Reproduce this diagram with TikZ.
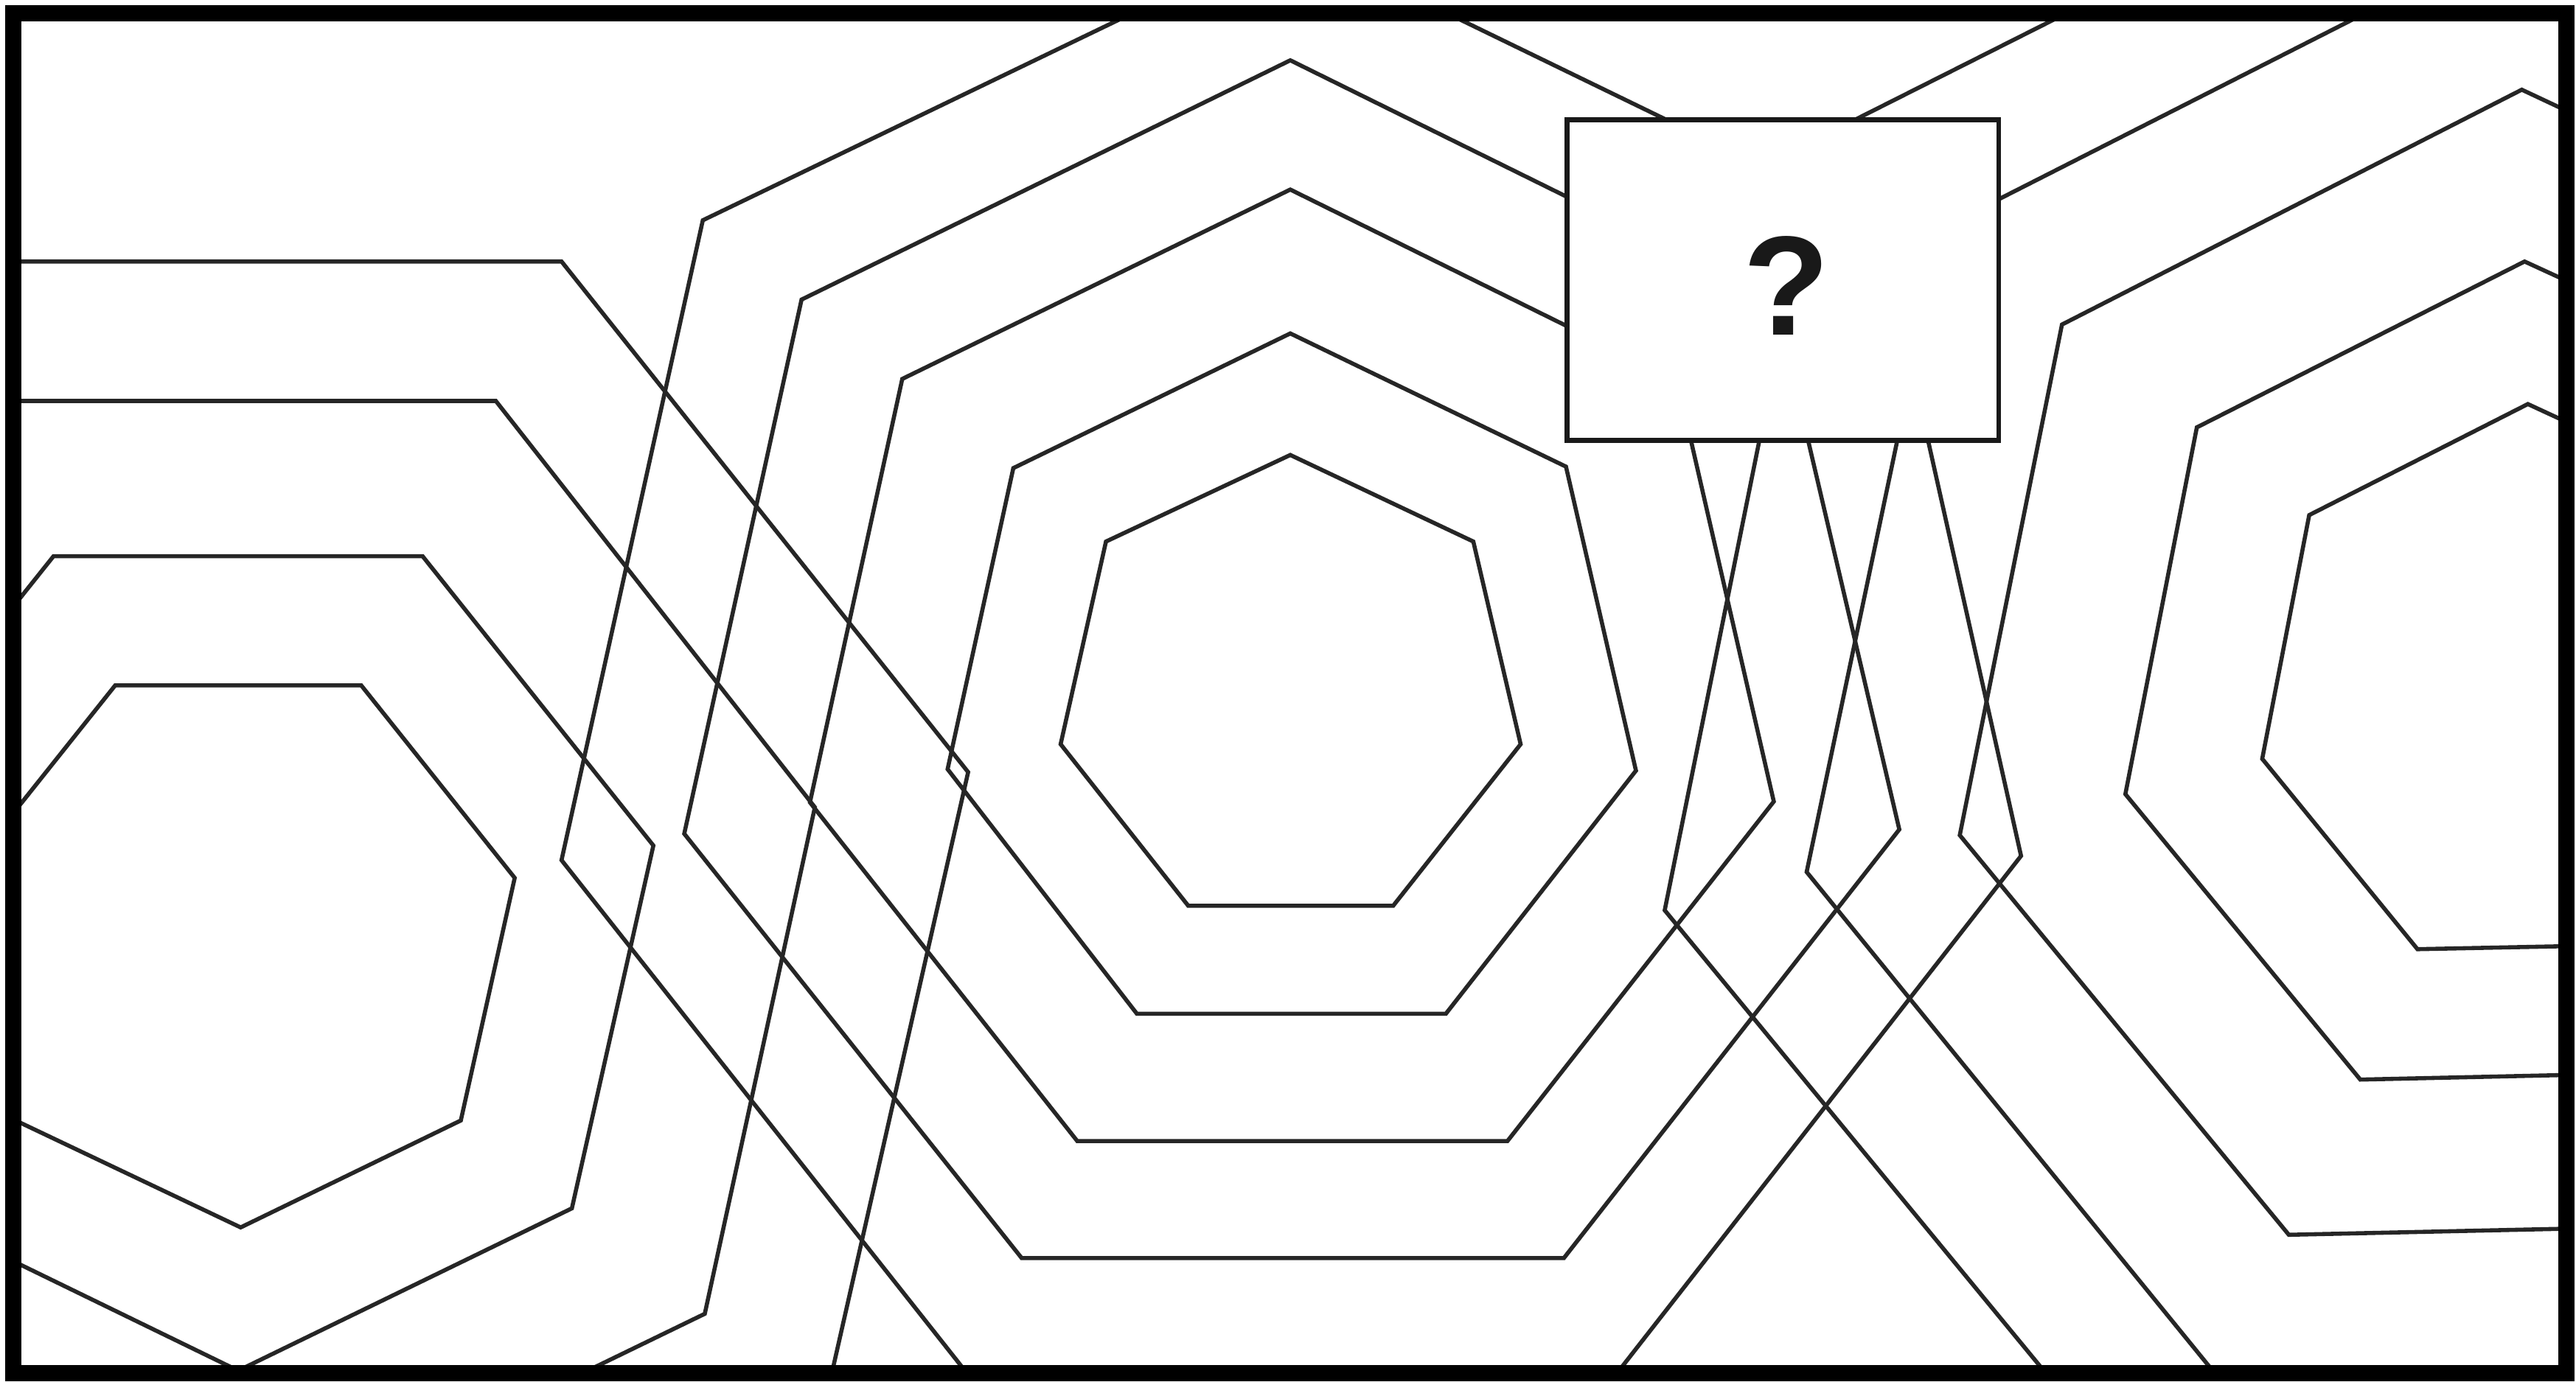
\documentclass[tikz,border=0pt]{standalone}
\usepackage{fontspec}
\setmainfont{Liberation Sans}
\begin{document}
\begin{tikzpicture}[x=0.1mm,y=-0.1mm,
  ln/.style={line width=0.25mm, draw=black!85, line join=miter},
  frame/.style={line width=1mm, draw=black},
  qboxstyle/.style={draw=black!90, fill=white, line width=0.3mm, minimum width=26.29mm, minimum height=19.5mm, inner sep=0pt},
  qmarkstyle/.style={inner sep=0pt, text=black!90, font=\bfseries\fontsize{24.5}{24.5}\selectfont}]
\useasboundingbox (0,0) rectangle (1568,841);
\fill[white] (0,0) rectangle (1568,841);
\begin{scope}
\clip (12,12) rectangle (1558,832);
% left group (vertex-down heptagons)
\draw[ln] (70.1,417.3) -- (219.9,417.3) -- (313.3,534.5) -- (280.5,682.2) -- (146.5,747.3) -- (9.5,682.2) -- (-23.3,534.5) -- cycle;
\draw[ln] (32.6,338.6) -- (257.2,338.6) -- (397.7,514.8) -- (348.1,735.7) -- (145,834.5) -- (-58,735.7) -- (-108,514.8) -- cycle;
\draw[ln] (-30,244.1) -- (301.8,244.1) -- (496,491.5) -- (429,799.9) -- (145,937.8) -- (-140,799.9);
\draw[ln] (-30,159.2) -- (341.8,159.2) -- (589.3,470.1) -- (500.9,860);
% middle group (vertex-up heptagons)
\draw[ln] (785.4,277) -- (896.8,329.7) -- (925.6,453.1) -- (848.0,551.5) -- (723.3,551.5) -- (645.6,453.1) -- (673.2,329.7) -- cycle;
\draw[ln] (785.4,203) -- (953.2,284.1) -- (995.8,469.2) -- (880.1,617.2) -- (692.0,617.2) -- (576.8,468.3) -- (616.8,285) -- cycle;
\draw[ln] (785.4,115.4) -- (1020.9,231.7) -- (1079.7,488) -- (917.6,694.7) -- (655.7,694.7) -- (493,488.5) -- (549.2,230.7) -- cycle;
\draw[ln] (785.4,36.7) -- (1080.5,182.4) -- (1156.1,505) -- (951.9,766) -- (621.9,766) -- (416.5,507.6) -- (487.9,182.4) -- cycle;
\draw[ln] (785.4,-38.3) -- (1144,135.9) -- (1230.2,521.1) -- (984.3,836) -- (588.5,836) -- (341.8,523.7) -- (427.8,134.1) -- cycle;
% right group
\draw[ln] (1575,262.8) -- (1538.7,246) -- (1405.6,313.6) -- (1377,462) -- (1471.5,577.9) -- (1575,575.8);
\draw[ln] (1575,176.8) -- (1536.7,159.2) -- (1337.2,260.2) -- (1293.7,483.5) -- (1436.7,657.3) -- (1575,654.2);
\draw[ln] (1575,73.4) -- (1535,54.6) -- (1255.1,197.6) -- (1192.9,508.5) -- (1393.2,751.8) -- (1575,747.8);
\draw[ln] (1540,-43) -- (1182,138.9) -- (1099.7,530.9) -- (1370,863);
\draw[ln] (1300,-13.2) -- (1108.1,83.5) -- (1013.3,554.2) -- (1250,841.8);
\end{scope}
\node[qboxstyle] (qbox) at (1085.15,170.5) {};
\node[qmarkstyle] (qmark) at (1087.2,173.8) {?};
\draw[frame] (8,8) rectangle (1562,836);
\end{tikzpicture}
\end{document}
